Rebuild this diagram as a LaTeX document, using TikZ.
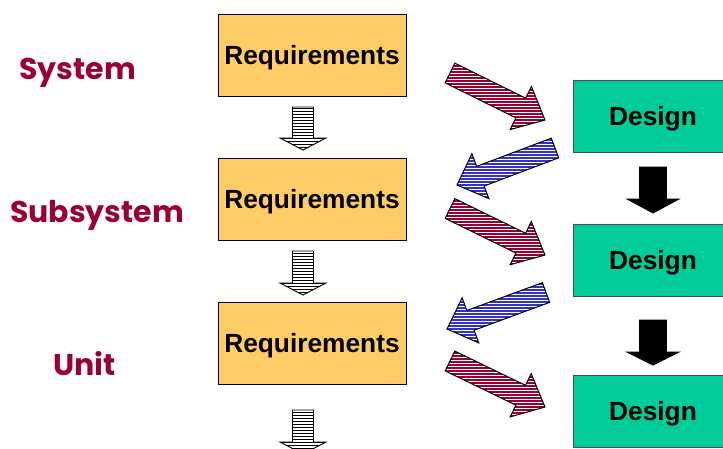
\documentclass[tikz,border=0pt]{standalone}
\usepackage{fontspec}
\setmainfont{Liberation Sans}
\newfontfamily\lblfont{Poppins}
\usetikzlibrary{calc}
\definecolor{reqfill}{HTML}{FFCC66}
\definecolor{desfill}{HTML}{00CC99}
\definecolor{wine}{HTML}{990033}
\definecolor{hblue}{HTML}{3333CC}
% #1 outline style, #2 tail, #3 tip, #4 shaft half width, #5 head half width,
% #6 head length, #7 hatch colour, #8 hatch line width
\newcommand\hatcharrow[8]{%
  \path ($(#3)!#6!(#2)$) coordinate (bh);
  \path ($(#2)!#4!90:(#3)$) coordinate (p1)
        ($(bh)!#4!90:(#3)$) coordinate (p2)
        ($(bh)!#5!90:(#3)$) coordinate (p3)
        ($(bh)!#5!-90:(#3)$) coordinate (p5)
        ($(bh)!#4!-90:(#3)$) coordinate (p6)
        ($(#2)!#4!-90:(#3)$) coordinate (p7);
  \begin{scope}
    \clip (p1) -- (p2) -- (p3) -- (#3) -- (p5) -- (p6) -- (p7) -- cycle;
    \fill[white] (p1) -- (p2) -- (p3) -- (#3) -- (p5) -- (p6) -- (p7) -- cycle;
    \foreach \k in {-40,...,40}
      \draw[draw=#7, line width=#8] ($(#3)+(-140,3*\k)$) -- ($(#3)+(140,3*\k)$);
  \end{scope}
  \draw[#1] (p1) -- (p2) -- (p3) -- (#3) -- (p5) -- (p6) -- (p7) -- cycle;}
\tikzset{
  req/.style={draw=black, line width=0.8pt, fill=reqfill, minimum width=188pt, minimum height=82pt,
    inner sep=0pt, text height=18.5pt, text depth=0pt, font=\bfseries\fontsize{26.3}{30}\selectfont},
  des/.style={draw=black!70, line width=0.8pt, fill=desfill, minimum width=160pt, minimum height=72pt,
    inner sep=0pt, text height=18.5pt, text depth=0pt, font=\bfseries\fontsize{26.3}{30}\selectfont},
  lbl/.style={text=wine, anchor=base, inner sep=0pt, font=\lblfont\bfseries\fontsize{30}{36}\selectfont},
  arroutline/.style={draw=black, line width=1pt, line join=miter},
  thinoutline/.style={draw=black, line width=0.9pt, line join=miter},
}
\begin{document}
\begin{tikzpicture}[x=1pt,y=-1pt]
\useasboundingbox (0,0) rectangle (723,448);
\clip (0,0) rectangle (723,448);
% labels
\node[lbl] (lsys) at (77.5,79) {System};
\node[lbl] (lsub) at (97,222) {Subsystem};
\node[lbl] (lunit) at (84.5,375) {Unit};
% boxes
\node[req] (r1) at (312,55) {Requirements};
\node[req] (r2) at (312,199) {Requirements};
\node[req] (r3) at (312,343) {Requirements};
\node[des] (d1) at (653,116) {Design};
\node[des] (d2) at (653,260) {Design};
\node[des] (d3) at (653,411) {Design};
% arrow end points
\coordinate (ra1t) at (450,73);   \coordinate (ra1h) at (545,120);
\coordinate (ra2t) at (450,208.5);\coordinate (ra2h) at (545,255);
\coordinate (ra3t) at (450,361);  \coordinate (ra3h) at (545,407);
\coordinate (ba1t) at (555,148);  \coordinate (ba1h) at (457,185);
\coordinate (ba2t) at (546,292.5);\coordinate (ba2h) at (447,329);
\coordinate (ha1t) at (303,107);  \coordinate (ha1h) at (303,150);
\coordinate (ha2t) at (303,251);  \coordinate (ha2h) at (303,295);
\coordinate (ha3t) at (303,410);  \coordinate (ha3h) at (303,454);
\coordinate (ka1t) at (653,167);  \coordinate (ka1h) at (653,213);
\coordinate (ka2t) at (653,320);  \coordinate (ka2h) at (653,365);
% hatched diagonal arrows
\hatcharrow{arroutline}{ra1t}{ra1h}{11pt}{24pt}{27pt}{wine}{1.05pt}
\hatcharrow{arroutline}{ra2t}{ra2h}{11pt}{24pt}{27pt}{wine}{1.05pt}
\hatcharrow{arroutline}{ra3t}{ra3h}{11pt}{24pt}{27pt}{wine}{1.05pt}
\hatcharrow{arroutline}{ba1t}{ba1h}{10.5pt}{24pt}{25pt}{hblue}{1.05pt}
\hatcharrow{arroutline}{ba2t}{ba2h}{10.5pt}{24pt}{25pt}{hblue}{1.05pt}
% hollow down arrows
\hatcharrow{thinoutline}{ha1t}{ha1h}{10.5pt}{23pt}{12pt}{black}{0.75pt}
\hatcharrow{thinoutline}{ha2t}{ha2h}{10.5pt}{23pt}{12pt}{black}{0.75pt}
\hatcharrow{thinoutline}{ha3t}{ha3h}{10.5pt}{23pt}{12pt}{black}{0.75pt}
% black down arrows
\hatcharrow{thinoutline}{ka1t}{ka1h}{13.5pt}{26pt}{14pt}{black}{3.5pt}
\hatcharrow{thinoutline}{ka2t}{ka2h}{13.5pt}{26pt}{13pt}{black}{3.5pt}
\end{tikzpicture}
\end{document}
